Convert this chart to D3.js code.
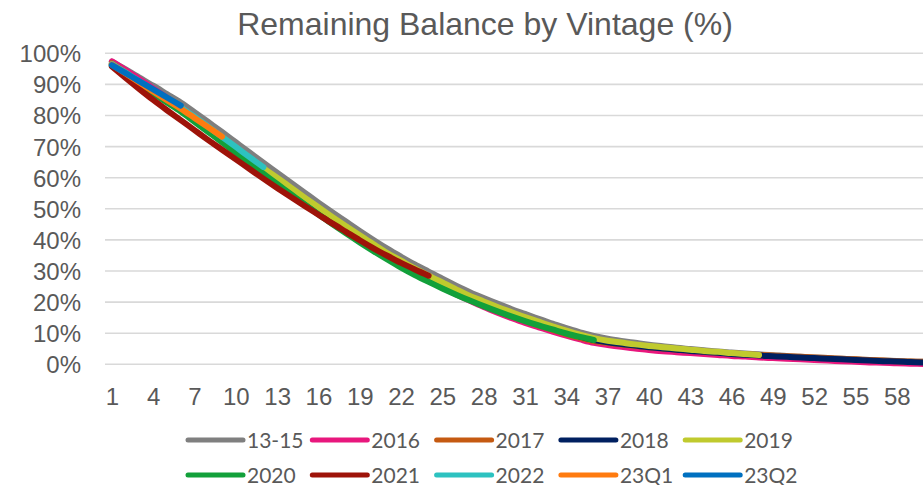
<!DOCTYPE html>
<html>
<head>
<meta charset="utf-8">
<script src="https://cdn.jsdelivr.net/npm/d3@7"></script>
<style>
  html, body { margin: 0; padding: 0; background: #ffffff; overflow: hidden; }
  svg { display: block; }
</style>
</head>
<body>
<svg id="chart" width="923" height="485"></svg>
<script>
// ---------- DATA ----------
const categories = [1,2,3,4,5,6,7,8,9,10,11,12,13,14,15,16,17,18,19,20,21,22,23,24,25,26,27,28,29,30,
  31,32,33,34,35,36,37,38,39,40,41,42,43,44,45,46,47,48,49,50,51,52,53,54,55,56,57,58,59,60];
const xTickLabels = [1,4,7,10,13,16,19,22,25,28,31,34,37,40,43,46,49,52,55,58];
const yTickValues = [0,10,20,30,40,50,60,70,80,90,100];

const seriesNames = ["13-15","2016","2017","2018","2019","2020","2021","2022","23Q1","23Q2"];

const v1315 = [97.3,94.8,92.2,89.6,86.9,84.2,81.1,77.9,74.7,71.4,68.1,64.8,61.6,58.4,55.2,52.0,48.9,45.9,42.9,40.0,
  37.2,34.6,32.1,29.8,27.5,25.3,23.2,21.3,19.5,17.8,16.2,14.6,13.1,11.6,10.3,9.1,8.2,7.5,6.9,6.3,
  5.8,5.3,4.9,4.5,4.1,3.8,3.5,3.2,2.9,2.7,2.4,2.2,2.0,1.8,1.6,1.4,1.2,1.1,0.9,0.8];
const v2016 = [97.4,94.6,91.7,88.7,85.7,82.6,79.4,76.1,72.8,69.4,66.0,62.6,59.3,56.0,52.8,49.6,46.5,43.4,40.4,37.5,
  34.7,32.0,29.4,27.0,24.7,22.5,20.4,18.4,16.6,14.9,13.3,11.9,10.5,9.2,8.0,6.9,6.2,5.6,5.1,4.6,
  4.2,3.9,3.6,3.3,3.0,2.7,2.5,2.2,2.0,1.8,1.6,1.4,1.2,1.0,0.8,0.6,0.5,0.3,0.2,0.1];
const v2017 = [96.8,93.8,90.8,87.8,84.9,82.0,78.8,75.6,72.3,69.0,65.7,62.4,59.2,56.0,52.8,49.7,46.6,43.6,40.6,37.7,
  34.9,32.2,29.6,27.2,24.9,22.8,20.8,18.9,17.2,15.5,14.0,12.5,11.1,9.7,8.5,7.5,6.9,6.4,5.9,5.5,
  5.1,4.7,4.4,4.1,3.8,3.5,3.2,3.0,2.8,2.6,2.4,2.2,2.0,1.8,1.6,1.4,1.2,1.0,0.9,0.8];
const v2018 = [96.3,93.3,90.4,87.5,84.7,81.9,78.7,75.5,72.2,68.9,65.6,62.3,59.1,55.9,52.7,49.6,46.5,43.5,40.5,37.6,
  34.8,32.2,29.7,27.4,25.3,23.2,21.2,19.4,17.6,16.0,14.4,12.9,11.5,10.1,8.9,7.8,7.1,6.5,6.0,5.5,
  5.1,4.7,4.3,4.0,3.7,3.3,3.1,2.8,2.6,2.4,2.2,2.0,1.8,1.6,1.4,1.2,1.0,0.9,0.7,0.6];
const v2019 = [96.5,93.6,90.8,88.0,85.3,82.5,79.3,76.2,73.0,69.7,66.4,63.1,60.0,56.8,53.6,50.5,47.4,44.4,41.5,38.6,
  35.8,33.3,30.8,28.5,26.3,24.1,22.0,20.2,18.4,16.8,15.2,13.7,12.2,10.8,9.5,8.4,7.6,7.0,6.4,5.9,
  5.5,5.1,4.7,4.3,4.0,3.6,3.3,3.0];
const v2020 = [96.0,93.0,90.0,87.1,84.2,81.3,78.0,74.7,71.4,68.0,64.6,61.3,58.0,54.7,51.4,48.2,45.1,42.1,39.2,36.4,
  33.7,31.1,28.7,26.5,24.4,22.4,20.5,18.7,17.0,15.4,13.9,12.5,11.2,9.9,8.8,7.8];
const v2021 = [95.8,92.1,88.5,85.0,81.7,78.5,75.3,72.1,69.0,65.9,62.8,59.7,56.7,53.8,50.9,48.1,45.3,42.6,39.9,37.3,
  34.9,32.6,30.5,28.5];
const v2022 = [96.6,93.8,91.0,88.2,85.4,82.6,79.6,76.4,73.1,69.9,66.6,63.4];
const v23Q1 = [96.4,93.5,90.6,87.7,84.9,82.2,79.2,76.2,73.2];
const v23Q2 = [96.2,93.6,91.0,88.4,85.8,83.2];

const seriesValues = [v1315, v2016, v2017, v2018, v2019, v2020, v2021, v2022, v23Q1, v23Q2];
const seriesColors = ["#7f7f7f","#e8177d","#c55a11","#002060","#c0ca2e","#12a03a","#9e1309","#2dc2c0","#ff7b0f","#0070c0"];

// ---------- CHART ----------
const svg = d3.select("#chart");
const textColor = "#595959";

const x = d3.scaleBand().domain(categories).range([105, 105 + 60 * 13.77]).paddingInner(0).paddingOuter(0);
const xp = c => x(c) + x.bandwidth() / 2;
const y = d3.scaleLinear().domain([0, 100]).range([364.3, 53.3]);

// title
svg.append("text")
  .attr("x", 485).attr("y", 35)
  .attr("text-anchor", "middle")
  .attr("font-family", "'Liberation Sans', Arial, sans-serif")
  .attr("font-size", 32)
  .attr("fill", textColor)
  .text("Remaining Balance by Vintage (%)");

// gridlines
svg.append("g").selectAll("line").data(yTickValues).join("line")
  .attr("x1", 105).attr("x2", 105 + 60 * 13.77)
  .attr("y1", d => y(d)).attr("y2", d => y(d))
  .attr("stroke", "#d9d9d9").attr("stroke-width", 1.6);

// y axis labels
const yAxis = d3.axisLeft(y).tickValues(yTickValues).tickFormat(d => d + "%").tickSize(0).tickPadding(0);
const gy = svg.append("g").attr("transform", "translate(81,0)").call(yAxis);
gy.select(".domain").remove();
gy.selectAll("text")
  .attr("font-family", "'Liberation Sans', Arial, sans-serif")
  .attr("font-size", 24)
  .attr("fill", textColor)
  .attr("dy", "0.35em");

// x axis labels
const xAxis = d3.axisBottom(d3.scalePoint().domain(categories).range([xp(1), xp(60)]))
  .tickValues(xTickLabels).tickSize(0).tickPadding(0);
const gx = svg.append("g").attr("transform", "translate(0,387)").call(xAxis);
gx.select(".domain").remove();
gx.selectAll("text")
  .attr("font-family", "'Liberation Sans', Arial, sans-serif")
  .attr("font-size", 24)
  .attr("fill", textColor)
  .attr("dy", "0.75em")
  .attr("y", 0);

// lines
const line = d3.line()
  .x((d, i) => xp(categories[i]))
  .y(d => y(d))
  .curve(d3.curveMonotoneX);

svg.append("g").selectAll("path").data(seriesValues).join("path")
  .attr("d", d => line(d))
  .attr("fill", "none")
  .attr("stroke", (d, i) => seriesColors[i])
  .attr("stroke-width", 6)
  .attr("stroke-linecap", "round")
  .attr("stroke-linejoin", "round");

// legend
const legendStartX = 188, legendStep = 124.3, rowY = [440, 475];
const lg = svg.append("g");
seriesNames.forEach((name, i) => {
  const row = Math.floor(i / 5), col = i % 5;
  const lx = legendStartX + col * legendStep;
  const ly = rowY[row];
  lg.append("line")
    .attr("x1", lx).attr("x2", lx + 55)
    .attr("y1", ly).attr("y2", ly)
    .attr("stroke", seriesColors[i])
    .attr("stroke-width", 5)
    .attr("stroke-linecap", "round");
  lg.append("text")
    .attr("x", lx + 59).attr("y", ly + 7.5)
    .attr("font-family", "Lato, 'Open Sans', sans-serif")
    .attr("font-size", 21)
    .attr("fill", textColor)
    .text(name);
});
</script>
</body>
</html>
